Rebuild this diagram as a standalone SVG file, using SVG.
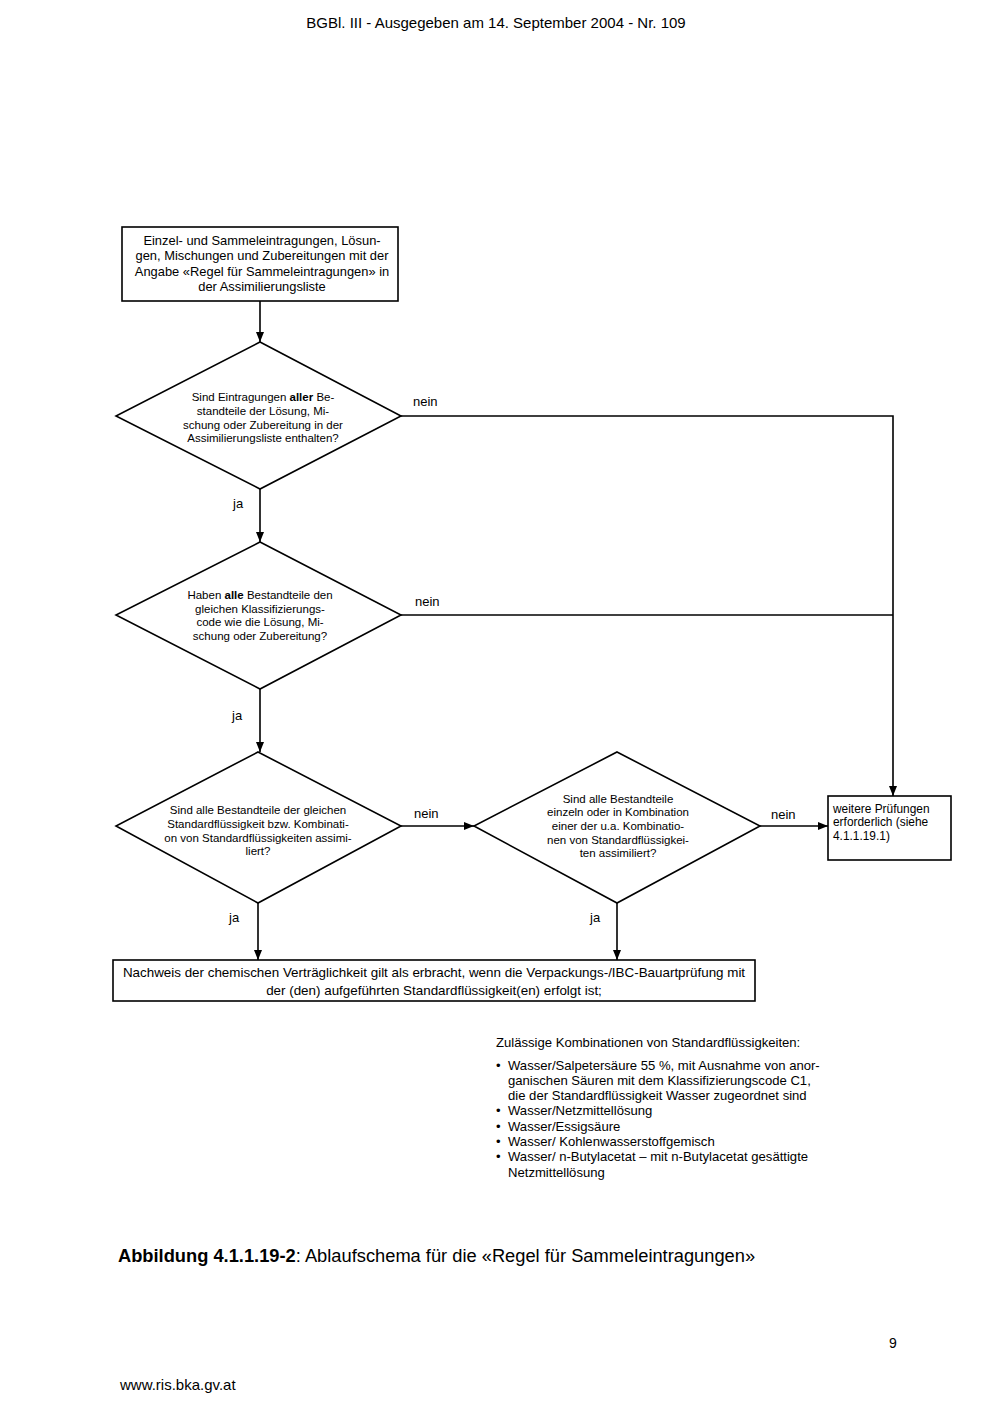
<svg xmlns="http://www.w3.org/2000/svg" width="992" height="1403" viewBox="0 0 992 1403">
<defs>
<marker id="ah" markerWidth="10" markerHeight="8" refX="10" refY="4" orient="auto" markerUnits="userSpaceOnUse">
<path d="M0,0 L10,4 L0,8 Z" fill="#000"/>
</marker>
<style>
text{font-family:"Liberation Sans",Arial,sans-serif;fill:#000}
.box{fill:#fff;stroke:#000;stroke-width:1.6}
.dia{fill:#fff;stroke:#000;stroke-width:1.6}
.c{stroke:#000;stroke-width:1.6;fill:none}
.t12{font-size:13.4px}
.t10{font-size:11.5px}
.tn{font-size:13.1px}
.lbl{font-size:13px}
</style>
</defs>
<rect width="992" height="1403" fill="#fff"/>
<text x="496" y="28" text-anchor="middle" font-size="15">BGBl. III - Ausgegeben am 14. September 2004 - Nr. 109</text>

<g id="connectors">
<line class="c" x1="260" y1="301" x2="260" y2="342" marker-end="url(#ah)"/>
<line class="c" x1="260" y1="489" x2="260" y2="542" marker-end="url(#ah)"/>
<line class="c" x1="260" y1="689" x2="260" y2="752" marker-end="url(#ah)"/>
<polyline class="c" points="401,416 893,416 893,796" marker-end="url(#ah)"/>
<line class="c" x1="401" y1="615" x2="893" y2="615"/>
<line class="c" x1="401" y1="826" x2="474" y2="826" marker-end="url(#ah)"/>
<line class="c" x1="760" y1="826" x2="828" y2="826" marker-end="url(#ah)"/>
<line class="c" x1="258" y1="903" x2="258" y2="960" marker-end="url(#ah)"/>
<line class="c" x1="617" y1="903" x2="617" y2="960" marker-end="url(#ah)"/>
<text class="lbl" x="413" y="406">nein</text>
<text class="lbl" x="415" y="606">nein</text>
<text class="lbl" x="414" y="818">nein</text>
<text class="lbl" x="771" y="819">nein</text>
<text class="lbl" x="233" y="508">ja</text>
<text class="lbl" x="232" y="720">ja</text>
<text class="lbl" x="229" y="922">ja</text>
<text class="lbl" x="590" y="922">ja</text>
</g>

<g id="start">
<rect class="box" x="122" y="227" width="276" height="74"/>
<text font-size="12.9px" text-anchor="middle"><tspan x="262" y="245">Einzel- und Sammeleintragungen, Lösun-</tspan><tspan x="262" y="260">gen, Mischungen und Zubereitungen mit der</tspan><tspan x="262" y="276">Angabe «Regel für Sammeleintragungen» in</tspan><tspan x="262" y="291">der Assimilierungsliste</tspan></text>
</g>

<g id="d1">
<polygon class="dia" points="260,342 401,416 260,489 116,416"/>
<text class="t10" text-anchor="middle"><tspan x="263" y="401">Sind Eintragungen <tspan font-weight="bold">aller</tspan> Be-</tspan><tspan x="263" y="415">standteile der Lösung, Mi-</tspan><tspan x="263" y="429">schung oder Zubereitung in der</tspan><tspan x="263" y="442">Assimilierungsliste enthalten?</tspan></text>
</g>

<g id="d2">
<polygon class="dia" points="260,542 401,615 260,689 116,615"/>
<text class="t10" text-anchor="middle"><tspan x="260" y="599">Haben <tspan font-weight="bold">alle</tspan> Bestandteile den</tspan><tspan x="260" y="613">gleichen Klassifizierungs-</tspan><tspan x="260" y="626">code wie die Lösung, Mi-</tspan><tspan x="260" y="640">schung oder Zubereitung?</tspan></text>
</g>

<g id="d3">
<polygon class="dia" points="258,752 401,826 258,903 116,826"/>
<text class="t10" text-anchor="middle"><tspan x="258" y="814">Sind alle Bestandteile der gleichen</tspan><tspan x="258" y="828">Standardflüssigkeit bzw. Kombinati-</tspan><tspan x="258" y="842">on von Standardflüssigkeiten assimi-</tspan><tspan x="258" y="855">liert?</tspan></text>
</g>

<g id="d4">
<polygon class="dia" points="617,752 760,826 617,903 474,826"/>
<text class="t10" text-anchor="middle"><tspan x="618" y="803">Sind alle Bestandteile</tspan><tspan x="618" y="816">einzeln oder in Kombination</tspan><tspan x="618" y="830">einer der u.a. Kombinatio-</tspan><tspan x="618" y="844">nen von Standardflüssigkei-</tspan><tspan x="618" y="857">ten assimiliert?</tspan></text>
</g>

<g id="further">
<rect class="box" x="828" y="796" width="123" height="64"/>
<text font-size="11.9px"><tspan x="833" y="813">weitere Prüfungen</tspan><tspan x="833" y="826">erforderlich (siehe</tspan><tspan x="833" y="840">4.1.1.19.1)</tspan></text>
</g>

<g id="result">
<rect class="box" x="113" y="960" width="642" height="41"/>
<text class="t12" text-anchor="middle"><tspan x="434" y="977">Nachweis der chemischen Verträglichkeit gilt als erbracht, wenn die Verpackungs-/IBC-Bauartprüfung mit</tspan><tspan x="434" y="995">der (den) aufgeführten Standardflüssigkeit(en) erfolgt ist;</tspan></text>
</g>

<g id="notes" class="tn">
<text x="496" y="1047">Zulässige Kombinationen von Standardflüssigkeiten:</text>
<text x="496" y="1070">•</text><text x="508" y="1070">Wasser/Salpetersäure 55 %, mit Ausnahme von anor-</text>
<text x="508" y="1085">ganischen Säuren mit dem Klassifizierungscode C1,</text>
<text x="508" y="1100">die der Standardflüssigkeit Wasser zugeordnet sind</text>
<text x="496" y="1115">•</text><text x="508" y="1115">Wasser/Netzmittellösung</text>
<text x="496" y="1131">•</text><text x="508" y="1131">Wasser/Essigsäure</text>
<text x="496" y="1146">•</text><text x="508" y="1146">Wasser/ Kohlenwasserstoffgemisch</text>
<text x="496" y="1161">•</text><text x="508" y="1161">Wasser/ n-Butylacetat – mit n-Butylacetat gesättigte</text>
<text x="508" y="1177">Netzmittellösung</text>
</g>

<text x="118" y="1262" font-size="18.3"><tspan font-weight="bold">Abbildung 4.1.1.19-2</tspan>: Ablaufschema für die «Regel für Sammeleintragungen»</text>
<text x="889" y="1348" font-size="14">9</text>
<text x="120" y="1390" font-size="15">www.ris.bka.gv.at</text>
</svg>
